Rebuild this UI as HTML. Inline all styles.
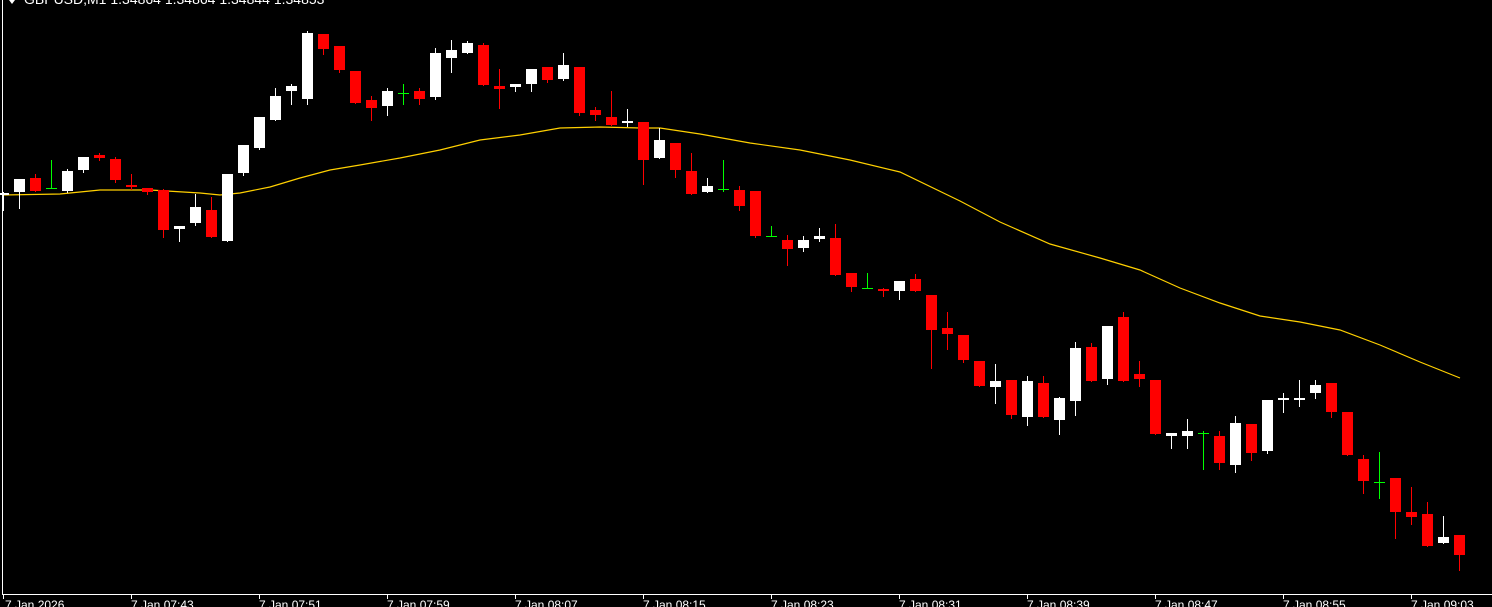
<!DOCTYPE html>
<html><head><meta charset="utf-8"><style>
html,body{margin:0;padding:0;background:#000;width:1492px;height:607px;overflow:hidden}
svg{display:block}
text{font-family:"Liberation Sans",sans-serif;fill:#fff}
</style></head><body>
<svg width="1492" height="607" viewBox="0 0 1492 607" xmlns="http://www.w3.org/2000/svg">
<rect width="1492" height="607" fill="#000"/>
<text x="24" y="4" font-size="14">GBPUSD,M1  1.34864 1.34864 1.34844 1.34853</text>
<polygon points="9,0 15,0 12,4" fill="#fff"/>
<rect x="2" y="0" width="1" height="594" fill="#fff"/>
<rect x="2" y="594" width="1490" height="1" fill="#fff"/>
<polyline fill="none" stroke="#ffd000" stroke-width="1.2" points="3,195 60,194 100,190 150,190 200,193 220,195 240,193 270,187 300,178 330,170 360,165 400,158 440,150 480,140 520,135 560,128 600,127 640,128 660,128 700,134 750,143 800,150 850,160 900,172 960,201 1000,222 1050,244 1100,258 1140,270 1180,288 1220,303 1260,316 1300,322 1340,330 1380,345 1420,362 1460,378"/>
<g id="c"></g>
<g font-size="12">
<text x="5" y="609">7 Jan 2026</text>
<text x="131" y="609">7 Jan 07:43</text>
<text x="259" y="609">7 Jan 07:51</text>
<text x="387" y="609">7 Jan 07:59</text>
<text x="515" y="609">7 Jan 08:07</text>
<text x="643" y="609">7 Jan 08:15</text>
<text x="771" y="609">7 Jan 08:23</text>
<text x="899" y="609">7 Jan 08:31</text>
<text x="1027" y="609">7 Jan 08:39</text>
<text x="1155" y="609">7 Jan 08:47</text>
<text x="1283" y="609">7 Jan 08:55</text>
<text x="1411" y="609">7 Jan 09:03</text>
</g>
<g fill="#fff">
<rect x="3" y="594" width="1" height="5"/><rect x="131" y="594" width="1" height="5"/><rect x="259" y="594" width="1" height="5"/><rect x="387" y="594" width="1" height="5"/><rect x="515" y="594" width="1" height="5"/><rect x="643" y="594" width="1" height="5"/><rect x="771" y="594" width="1" height="5"/><rect x="899" y="594" width="1" height="5"/><rect x="1027" y="594" width="1" height="5"/><rect x="1155" y="594" width="1" height="5"/><rect x="1283" y="594" width="1" height="5"/><rect x="1411" y="594" width="1" height="5"/>
</g>
</svg>
<script>
var d=[
[3,193,195,192,210,'w'],[19,179,192,179,208,'w'],[35,178,191,174,191,'r'],[51,188,188,160,188,'g'],[67,171,191,169,192,'w'],[83,157,170,157,172,'w'],[99,155,158,153,160,'r'],[115,159,180,157,182,'r'],[131,185,187,174,189,'r'],[147,188,192,188,194,'r'],
[163,190,230,189,237,'r'],[179,226,229,226,241,'w'],[195,207,223,194,225,'w'],[211,210,237,197,237,'r'],[227,174,241,174,241,'w'],[243,145,173,145,175,'w'],[259,117,148,117,149,'w'],[275,96,120,88,120,'w'],[291,86,91,84,104,'w'],[307,33,99,31,104,'w'],
[323,34,49,34,54,'r'],[339,46,70,46,72,'r'],[355,71,103,71,103,'r'],[371,100,108,96,120,'r'],[387,91,106,88,115,'w'],[403,93,93,84,104,'g'],[419,91,99,88,104,'r'],[435,53,97,48,99,'w'],[451,50,58,40,72,'w'],[467,43,53,41,53,'w'],
[483,45,85,43,85,'r'],[499,86,89,69,108,'r'],[515,84,87,84,91,'w'],[531,69,84,69,91,'w'],[547,67,80,67,82,'r'],[563,65,79,53,80,'w'],[579,67,113,67,115,'r'],[595,110,115,107,120,'r'],[611,117,125,91,125,'r'],[627,121,123,109,126,'w'],
[643,122,160,122,184,'r'],[659,140,158,128,158,'w'],[675,143,170,143,177,'r'],[691,171,194,153,194,'r'],[707,186,192,178,192,'w'],[723,189,189,160,191,'g'],[739,190,206,186,210,'r'],[755,191,236,191,237,'r'],[771,236,236,226,236,'g'],[787,240,249,235,265,'r'],
[803,240,248,236,251,'w'],[819,236,239,228,241,'w'],[835,238,275,224,275,'r'],[851,273,287,273,291,'r'],[867,288,288,273,288,'g'],[883,289,291,288,296,'r'],[899,281,291,281,299,'w'],[915,279,291,274,291,'r'],[931,295,330,295,368,'r'],[947,328,334,312,349,'r'],
[963,335,360,335,362,'r'],[979,361,386,361,386,'r'],[995,381,387,364,403,'w'],[1011,380,415,380,418,'r'],[1027,381,417,376,425,'w'],[1043,383,417,376,417,'r'],[1059,398,420,397,434,'w'],[1075,348,401,342,415,'w'],[1091,347,381,343,381,'r'],[1107,326,379,326,384,'w'],
[1123,317,381,312,381,'r'],[1139,374,379,361,386,'r'],[1155,380,434,380,434,'r'],[1171,433,436,433,448,'w'],[1187,431,436,419,448,'w'],[1203,433,433,431,469,'g'],[1219,436,463,431,469,'r'],[1235,423,465,416,472,'w'],[1251,424,453,424,460,'r'],[1267,400,451,400,453,'w'],
[1283,398,399,393,412,'w'],[1299,398,399,380,406,'w'],[1315,385,393,380,398,'w'],[1331,383,412,383,417,'r'],[1347,412,455,412,455,'r'],[1363,459,481,455,493,'r'],[1379,482,482,452,498,'g'],[1395,478,512,478,538,'r'],[1411,512,517,487,524,'r'],[1427,514,546,502,546,'r'],
[1443,537,543,516,543,'w'],[1459,535,555,535,570,'r']];
var col={r:'#ff0000',w:'#ffffff',g:'#00ff00'};var s='';
d.forEach(function(c){var x=c[0],f=col[c[5]];
s+='<rect x="'+x+'" y="'+c[3]+'" width="1" height="'+(c[4]-c[3]+1)+'" fill="'+f+'"/>';
var h=c[2]-c[1];if(h<2)h=2;if(c[5]==='g')h=1;
s+='<rect x="'+(x-5)+'" y="'+c[1]+'" width="11" height="'+h+'" fill="'+f+'"/>';});
document.getElementById('c').innerHTML=s;
</script>
</body></html>
